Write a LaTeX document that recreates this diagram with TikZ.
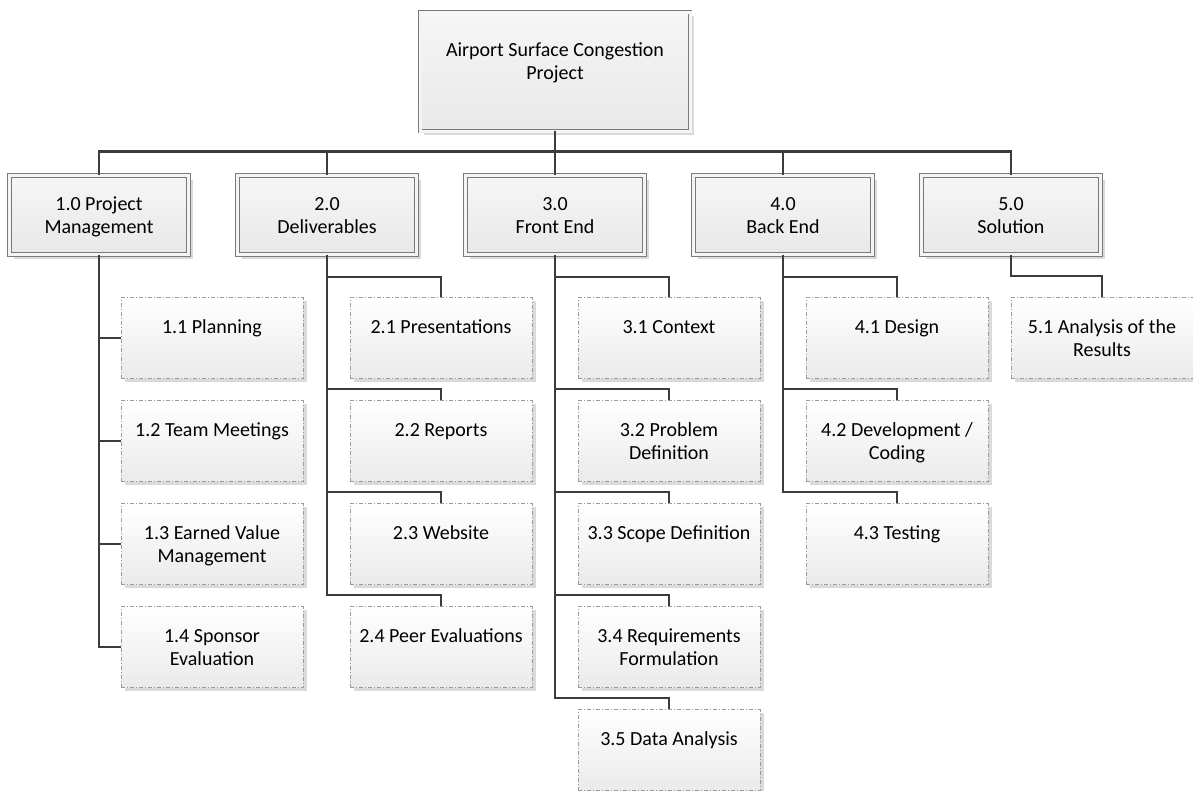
\documentclass[tikz,border=0pt]{standalone}
\usepackage{fontspec}
\setmainfont{Carlito}
\usetikzlibrary{shadows}
\definecolor{conn}{HTML}{3C3C3C}
\definecolor{boxline}{HTML}{7A7A7A}
\definecolor{boxgap}{HTML}{F4F4F4}
\definecolor{boxtop}{HTML}{F6F6F6}
\definecolor{boxbot}{HTML}{E8E8E8}
\definecolor{dashline}{HTML}{9A9A9A}
\definecolor{childbot}{HTML}{EAEAEA}
\definecolor{shadowgray}{HTML}{DADADA}
\newcommand\lnst{\rule[-5pt]{0pt}{23pt}}
\tikzset{
  txt/.style={align=center, inner sep=0pt, font=\fontsize{20}{23}\selectfont},
  mainbox/.style={txt, draw=boxline, line width=0.9pt, double=boxgap, double distance=3pt,
    top color=boxtop, bottom color=boxbot,
    drop shadow={shadow xshift=4pt, shadow yshift=-4pt, fill=shadowgray, opacity=1}},
  topbox/.style={mainbox, minimum width=270pt, minimum height=119pt},
  lvlbox/.style={mainbox, minimum width=179pt, minimum height=79pt},
  childbox/.style={txt, draw=dashline, line width=0.9pt, dash pattern=on 4pt off 2pt on 1pt off 2pt,
    top color=white, bottom color=childbot, minimum width=182pt, minimum height=81pt,
    drop shadow={shadow xshift=3.5pt, shadow yshift=-3.5pt, fill=shadowgray, opacity=1}},
  conline/.style={draw=conn, line width=2.6pt}
}
\begin{document}
\begin{tikzpicture}[x=1pt,y=-1pt]
\useasboundingbox (0,0) rectangle (1193,790);
% top
\node[topbox] (top) at (555,71.5) {Airport Surface Congestion\lnst\\Project\lnst\\\rule{0pt}{20pt}};
% level 1
\node[lvlbox] (p1) at (99,215) {1.0 Project\lnst\\Management\lnst};
\node[lvlbox] (p2) at (327,215) {2.0\lnst\\Deliverables\lnst};
\node[lvlbox] (p3) at (555,215) {3.0\lnst\\Front End\lnst};
\node[lvlbox] (p4) at (783,215) {4.0\lnst\\Back End\lnst};
\node[lvlbox] (p5) at (1011,215) {5.0\lnst\\Solution\lnst};
% column 1
\node[childbox] (c11) at (212,338) {1.1 Planning\lnst\\\lnst};
\node[childbox] (c12) at (212,441) {1.2 Team Meetings\lnst\\\lnst};
\node[childbox] (c13) at (212,544) {1.3 Earned Value\lnst\\Management\lnst};
\node[childbox] (c14) at (212,647) {1.4 Sponsor\lnst\\Evaluation\lnst};
% column 2
\node[childbox] (c21) at (441,338) {2.1 Presentations\lnst\\\lnst};
\node[childbox] (c22) at (441,441) {2.2 Reports\lnst\\\lnst};
\node[childbox] (c23) at (441,544) {2.3 Website\lnst\\\lnst};
\node[childbox] (c24) at (441,647) {2.4 Peer Evaluations\lnst\\\lnst};
% column 3
\node[childbox] (c31) at (669,338) {3.1 Context\lnst\\\lnst};
\node[childbox] (c32) at (669,441) {3.2 Problem\lnst\\Definition\lnst};
\node[childbox] (c33) at (669,544) {3.3 Scope Definition\lnst\\\lnst};
\node[childbox] (c34) at (669,647) {3.4 Requirements\lnst\\Formulation\lnst};
\node[childbox] (c35) at (669,750) {3.5 Data Analysis\lnst\\\lnst};
% column 4
\node[childbox] (c41) at (897,338) {4.1 Design\lnst\\\lnst};
\node[childbox] (c42) at (897,441) {4.2 Development /\lnst\\Coding\lnst};
\node[childbox] (c43) at (897,544) {4.3 Testing\lnst\\\lnst};
% column 5
\node[childbox] (c51) at (1102,338) {5.1 Analysis of the\lnst\\Results\lnst};
% connectors top -> level 1
\foreach \p in {p1,p2,p3,p4,p5}
  \draw[conline] (top.south) -- ++(0,20) -| (\p.north);
% column 1
\foreach \c in {c11,c12,c13,c14}
  \draw[conline] (p1.south) |- (\c.west);
% columns 2-4
\draw[conline] (p2.south) |- ([yshift=20pt]c21.north) -- (c21.north);
\foreach \c in {c22,c23,c24}
  \draw[conline] (p2.south) |- ([yshift=11pt]\c.north) -- (\c.north);
\draw[conline] (p3.south) |- ([yshift=20pt]c31.north) -- (c31.north);
\foreach \c in {c32,c33,c34,c35}
  \draw[conline] (p3.south) |- ([yshift=11pt]\c.north) -- (\c.north);
\draw[conline] (p4.south) |- ([yshift=20pt]c41.north) -- (c41.north);
\foreach \c in {c42,c43}
  \draw[conline] (p4.south) |- ([yshift=11pt]\c.north) -- (\c.north);
\draw[conline] (p5.south) |- ([yshift=21pt]c51.north) -- (c51.north);
\end{tikzpicture}
\end{document}
